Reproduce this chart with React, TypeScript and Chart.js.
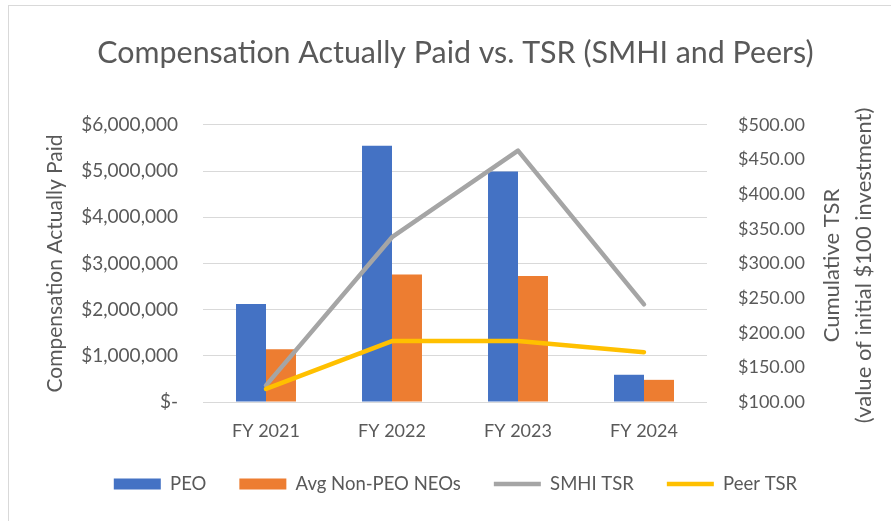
import React, { useEffect, useRef } from "react";
import { Chart, registerables } from "chart.js";

Chart.register(...registerables);

const categories = ["FY 2021", "FY 2022", "FY 2023", "FY 2024"];
const peoValues = [2120000, 5550000, 4990000, 590000];
const neoValues = [1140000, 2760000, 2730000, 480000];
const smhiTsr = [124, 338, 463, 241];
const peerTsr = [119, 188, 188, 172];

const FONT = "Lato";
const TEXT = "#595959";

const rightTitlePlugin = {
  id: "rightTitle",
  afterDraw(chart: any) {
    const { ctx, chartArea } = chart;
    const cy = (chartArea.top + chartArea.bottom) / 2 + 2;
    ctx.save();
    ctx.fillStyle = TEXT;
    ctx.font = `22px ${FONT}`;
    ctx.textAlign = "center";
    ctx.textBaseline = "middle";
    const lines: [string, number][] = [
      ["Cumulative TSR", 832],
      ["(value of initial $100 investment)", 864],
    ];
    for (const [t, x] of lines) {
      ctx.save();
      ctx.translate(x, cy);
      ctx.rotate(-Math.PI / 2);
      ctx.fillText(t, 0, 0);
      ctx.restore();
    }
    ctx.restore();
  },
};

export default function App() {
  const ref = useRef<HTMLCanvasElement>(null);
  useEffect(() => {
    const chart = new Chart(ref.current!, {
      type: "bar",
      data: {
        labels: categories,
        datasets: [
          {
            type: "bar",
            label: "PEO",
            data: peoValues,
            backgroundColor: "#4472C4",
            yAxisID: "y",
            order: 2,
            pointStyle: "rect",
          } as any,
          {
            type: "bar",
            label: "Avg Non-PEO NEOs",
            data: neoValues,
            backgroundColor: "#ED7D31",
            yAxisID: "y",
            order: 3,
            pointStyle: "rect",
          },
          {
            type: "line",
            label: "SMHI TSR",
            data: smhiTsr,
            borderColor: "#A5A5A5",
            backgroundColor: "#A5A5A5",
            borderWidth: 4.5,
            borderCapStyle: "round",
            borderJoinStyle: "round",
            pointRadius: 0,
            pointStyle: "line",
            yAxisID: "y1",
            order: 1,
          },
          {
            type: "line",
            label: "Peer TSR",
            data: peerTsr,
            borderColor: "#FFC000",
            backgroundColor: "#FFC000",
            borderWidth: 4.5,
            borderCapStyle: "round",
            borderJoinStyle: "round",
            pointRadius: 0,
            pointStyle: "line",
            yAxisID: "y1",
            order: 0,
          },
        ],
      },
      options: {
        animation: false,
        responsive: false,
        maintainAspectRatio: false,
        layout: { padding: { left: 20, right: 0, top: 0, bottom: 17.75 } },
        datasets: { bar: { categoryPercentage: 0.476, barPercentage: 1 } },
        plugins: {
          tooltip: { enabled: false },
          title: {
            display: true,
            text: "Compensation Actually Paid vs. TSR (SMHI and Peers)",
            color: TEXT,
            font: { family: FONT, size: 30.4, weight: "normal" },
            padding: { top: 35, bottom: 53.5 },
          },
          legend: {
            position: "bottom",
            labels: {
              color: TEXT,
              font: { family: FONT, size: 18.5 },
              usePointStyle: true,
              pointStyleWidth: 47,
              boxHeight: 11,
              padding: 33,
              sort: (a: any, b: any) => a.datasetIndex - b.datasetIndex,
            },
          },
        },
        scales: {
          x: {
            afterFit: (s: any) => {
              s.height = 39.75;
            },
            grid: { display: false, drawTicks: false },
            border: { display: false },
            ticks: {
              color: TEXT,
              font: { family: FONT, size: 18 },
              padding: 18.15,
            },
          },
          y: {
            position: "left",
            min: 0,
            max: 6000000,
            afterFit: (s: any) => {
              s.width = 183;
            },
            grid: { color: "#D9D9D9", lineWidth: 1, drawTicks: false },
            border: { display: false },
            ticks: {
              stepSize: 1000000,
              color: TEXT,
              font: { family: FONT, size: 19 },
              padding: 25,
              callback: (v: any) =>
                Number(v) === 0 ? "$-" : "$" + Number(v).toLocaleString("en-US"),
            },
            title: {
              display: true,
              text: "Compensation Actually Paid",
              color: TEXT,
              font: { family: FONT, size: 21 },
              padding: { top: 23, bottom: 0 },
            },
          },
          y1: {
            position: "right",
            min: 100,
            max: 500,
            afterFit: (s: any) => {
              s.width = 184;
            },
            grid: { drawOnChartArea: false, drawTicks: false },
            border: { display: false },
            ticks: {
              stepSize: 50,
              color: TEXT,
              font: { family: FONT, size: 18 },
              padding: 31,
              callback: (v: any) => "$" + Number(v).toFixed(2),
            },
          },
        },
      },
      plugins: [rightTitlePlugin],
    });
    return () => chart.destroy();
  }, []);

  return (
    <div
      style={{
        position: "fixed",
        left: 0,
        top: 0,
        width: 891,
        height: 521,
        overflow: "hidden",
        background: "#fff",
      }}
    >
      <div
        style={{
          position: "absolute",
          left: 8,
          top: 5,
          width: 1000,
          height: 1000,
          border: "1px solid #D9D9D9",
        }}
      />
      <canvas
        ref={ref}
        width={891}
        height={521}
        style={{ position: "absolute", left: 0, top: 0, width: 891, height: 521 }}
      />
    </div>
  );
}
